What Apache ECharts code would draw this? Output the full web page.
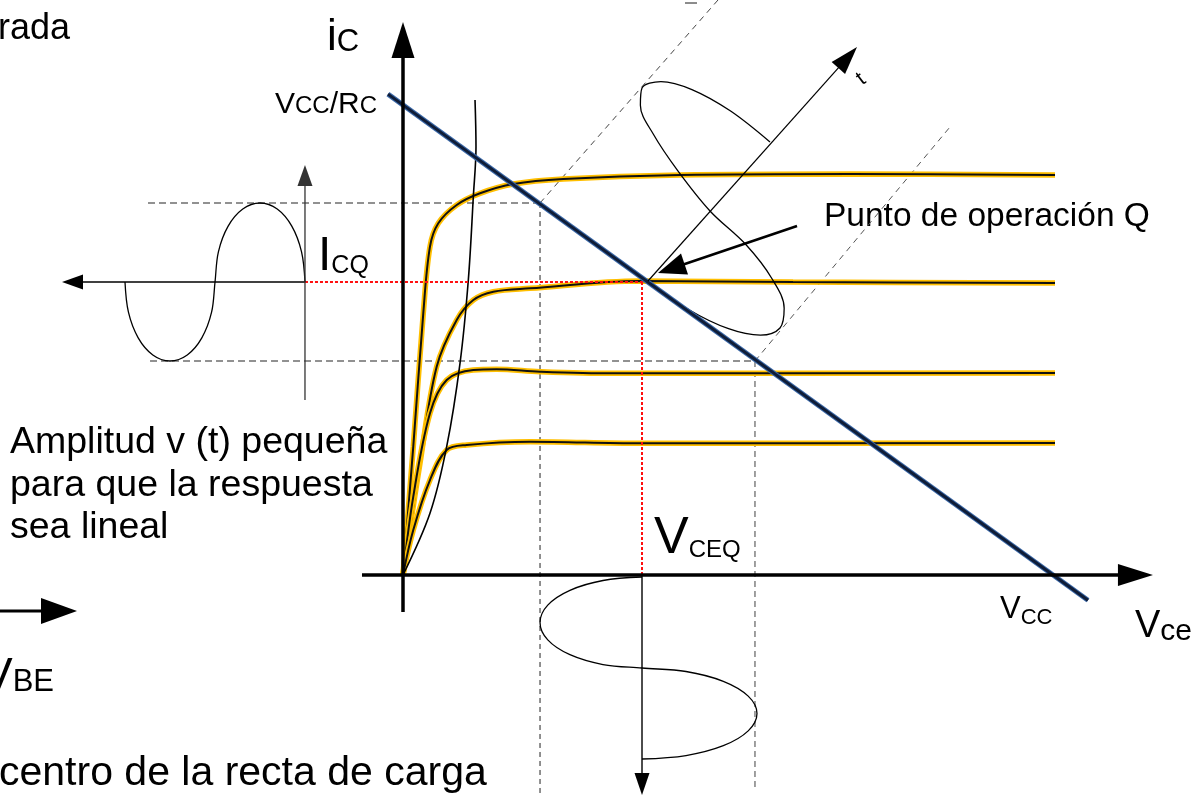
<!DOCTYPE html>
<html><head><meta charset="utf-8">
<script src="https://cdn.jsdelivr.net/npm/echarts@6/dist/echarts.min.js"></script>
<style>html,body{margin:0;padding:0;background:#fff}#c{width:1198px;height:795px}</style>
</head><body><div id="c"></div>
<script>
// ---- data (x: vCE units, y: iC units) ----
const curve1 = [[0,0],[0.158,2.730],[0.312,5.568],[0.415,6.985],[0.543,7.483],[0.826,7.872],[1.185,8.121],[1.697,8.319],[2.466,8.426],[4.262,8.511],[6.877,8.532],[10.031,8.511]];
const curve2 = [[0,0],[0.262,2.383],[0.518,4.433],[0.826,5.426],[1.082,5.851],[1.390,6.028],[1.954,6.099],[3.646,6.255],[6.0,6.234],[10.031,6.213]];
const curve3 = [[0,0],[0.158,1.666],[0.415,3.440],[0.672,4.149],[1.082,4.362],[1.441,4.376],[2.108,4.326],[3.236,4.291],[10.031,4.298]];
const curve4 = [[0,0],[0.158,0.957],[0.415,2.021],[0.672,2.660],[0.980,2.766],[1.954,2.837],[3.646,2.802],[10.031,2.809]];
const saturationCurve = [[0,0],[0.415,1.313],[0.672,2.730],[0.877,4.504],[1.005,6.277],[1.082,8.049],[1.123,9.113],[1.108,10.106]];
const loadLine = [[-0.231,10.231],[10.538,-0.538]];
const inputWave = [[-1.508,6.234],[-1.561,6.877],[-1.711,7.423],[-1.935,7.787],[-2.2,7.915],[-2.465,7.787],[-2.69,7.423],[-2.84,6.877],[-2.892,6.234],
  [-2.945,5.591],[-3.095,5.045],[-3.319,4.681],[-3.585,4.553],[-3.849,4.681],[-4.074,5.045],[-4.224,5.591],[-4.277,6.234]];
const outputWave = [[3.677,-0.043],[3.077,-0.117],[2.568,-0.326],[2.227,-0.641],[2.108,-1.011],[2.227,-1.381],[2.568,-1.696],[3.077,-1.905],[3.677,-1.979],
  [4.354,-2.053],[4.928,-2.262],[5.311,-2.577],[5.446,-2.947],[5.311,-3.317],[4.928,-3.632],[4.354,-3.841],[3.677,-3.915]];
const loadWave = [[3.769,6.255],[4.400,5.644],[5.008,5.240],[5.499,5.103],[5.800,5.255],[5.864,5.673],[5.682,6.293],[5.281,7.020],[4.723,7.745],
  [4.229,8.598],[3.850,9.382],[3.652,9.996],[3.677,10.362],[3.968,10.499],[4.445,10.329],[5.034,9.877],[5.646,9.213]];
const upperLevel = [[-3.923,7.915],[2.108,7.915]];
const lowerLevel = [[-3.892,4.553],[5.415,4.553]];
const upperDrop = [[2.108,7.915],[2.108,-4.681]];
const lowerDrop = [[5.415,4.553],[5.415,-4.532]];
const upperSlant = [[2.108,7.915],[4.846,12.234]];
const lowerSlant = [[5.415,4.553],[8.415,9.532]];
const icqLine = [[-1.508,6.234],[3.754,6.234]];
const vceqLine = [[3.677,6.234],[3.677,0]];
const topFragment = [[4.338,12.17],[4.523,12.17]];
// arrows: [start, tip]
const yAxisArrow = [[0,-0.787],[0,11.766]];
const xAxisArrow = [[-0.631,0],[11.538,0]];
const vbeArrow = [[-6.2,-0.766],[-5.015,-0.766]];
const inputTimeArrow = [[-1.508,6.234],[-5.246,6.234]];
const inputAmpArrow = [[-1.508,3.723],[-1.508,8.723]];
const outputTimeArrow = [[3.677,0],[3.677,-4.681]];
const loadTimeArrow = [[3.769,6.255],[6.985,11.234]];
const qPointer = [[6.062,7.426],[3.923,6.426]];

// ---- styling / assembly ----
const FONT = '"Liberation Sans", Arial, sans-serif';
const series = [];
function seg(data, color, width, type, z, smooth) {
  series.push({type:'line', data, symbol:'none', silent:true, animation:false, z: z||2,
    smooth: smooth||false, lineStyle:{color, width, type: type||'solid', cap:'butt'}});
}
seg(upperLevel,'#6d6d6d',1.6,[7,4],2);
seg(lowerLevel,'#6d6d6d',1.6,[7,4],2);
seg(upperDrop,'#222',1,[5,4],2);
seg(lowerDrop,'#6d6d6d',1.3,[6,4],2);
seg(upperSlant,'#444',1,[6,5],2);
seg(lowerSlant,'#555',1,[6,5],2);
seg(topFragment,'#666',1.5,'solid',2);
[curve1,curve2,curve3,curve4].forEach(c=>{
  seg(c,'#ffbf00',5.5,'solid',3,0.35);
  seg(c,'#111',2,'solid',3,0.35);
});
seg(saturationCurve,'#000',1.6,'solid',3,0.35);
seg(icqLine,'#ff1010',2,[3,2],4);
seg(vceqLine,'#ff1010',2,[3,2],4);
seg(loadLine,'#3a68a8',5,'solid',5);
seg(loadLine,'#0f1d38',3,'solid',5);
seg(inputWave,'#000',1.3,'solid',4,0.35);
seg(outputWave,'#000',1.3,'solid',4,0.35);
seg(loadWave,'#000',1.3,'solid',4,0.35);

const arrowList = [
  {pts:yAxisArrow, lw:3.5, hl:36, hw:23, color:'#000'},
  {pts:xAxisArrow, lw:3.5, hl:35, hw:22, color:'#000'},
  {pts:vbeArrow, lw:3, hl:36, hw:26, color:'#000'},
  {pts:inputTimeArrow, lw:1.4, hl:21, hw:15, color:'#000'},
  {pts:inputAmpArrow, lw:1.3, hl:21, hw:15, color:'#333'},
  {pts:outputTimeArrow, lw:1.4, hl:22, hw:15, color:'#000'},
  {pts:loadTimeArrow, lw:1.2, hl:28, hw:18, color:'#000'},
  {pts:qPointer, lw:2.6, hl:28, hw:22, color:'#000'}
];
series.push({
  type:'custom', coordinateSystem:'cartesian2d', silent:true, animation:false, z:6,
  data: arrowList.map((a,i)=>[a.pts[0][0],a.pts[0][1],a.pts[1][0],a.pts[1][1],i]),
  encode:{x:[0,2], y:[1,3]},
  renderItem:(params, api)=>{
    const s = arrowList[api.value(4)];
    const p1 = api.coord([api.value(0),api.value(1)]);
    const p2 = api.coord([api.value(2),api.value(3)]);
    const dx=p2[0]-p1[0], dy=p2[1]-p1[1], L=Math.hypot(dx,dy);
    const ux=dx/L, uy=dy/L, nx=-uy, ny=ux;
    const bx=p2[0]-ux*s.hl, by=p2[1]-uy*s.hl;
    return {type:'group', children:[
      {type:'line', shape:{x1:p1[0],y1:p1[1],x2:bx+ux*2,y2:by+uy*2}, style:{stroke:s.color,lineWidth:s.lw}},
      {type:'polygon', shape:{points:[[p2[0],p2[1]],[bx+nx*s.hw/2,by+ny*s.hw/2],[bx-nx*s.hw/2,by-ny*s.hw/2]]}, style:{fill:s.color}}
    ]};
  }
});

// ---- text labels (layout) ----
const labels = [
  {x:-2, b:42, parts:[['rada',36]]},
  {x:327, b:53, parts:[['i',44],['C',31]]},
  {x:275, b:115, parts:[['V',30],['CC',24],['/R',30],['C',24]]},
  {x:318, b:273, parts:[['I',48],['CQ',25,2]]},
  {x:824, b:228, parts:[['Punto de operación Q',33.5]]},
  {x:10, b:456, parts:[['Amplitud v (t) pequeña',37.5]]},
  {x:10, b:499, parts:[['para que la respuesta',37.5]]},
  {x:10, b:541, parts:[['sea lineal',37.5]]},
  {x:654, b:557, parts:[['V',52],['CEQ',24,2]]},
  {x:1000, b:620, parts:[['V',31],['CC',22,6]]},
  {x:1135, b:640, parts:[['V',38],['ce',30,2]]},
  {x:-18, b:693, parts:[['V',46],['BE',31]]},
  {x:-1, b:788, parts:[['centro de la recta de carga',41]]}
];
const ctx = document.createElement('canvas').getContext('2d');
const elements = [];
labels.forEach(l=>{
  let x = l.x;
  l.parts.forEach(p=>{
    const [t,size,dy] = p;
    const font = size+'px '+FONT;
    ctx.font = font;
    elements.push({type:'text', x:x, y:l.b+(dy||0)-0.3465*size, silent:true,
      style:{text:t, font:font, fill:'#000', textAlign:'left', textVerticalAlign:'middle', align:'left', verticalAlign:'middle'}});
    x += ctx.measureText(t).width;
  });
});
elements.push({type:'text', x:861, y:79, rotation:0.65, silent:true,
  style:{text:'t', font:'21px '+FONT, fill:'#000', textAlign:'center', textVerticalAlign:'middle', align:'center', verticalAlign:'middle'}});

const chart = echarts.init(document.getElementById('c'), null, {renderer:'canvas'});
chart.setOption({
  animation:false,
  backgroundColor:'#fff',
  grid:{left:0,right:0,top:0,bottom:0,containLabel:false},
  xAxis:{type:'value', min:-6.2, max:12.2308, show:false},
  yAxis:{type:'value', min:-4.6809, max:12.2340, show:false},
  series,
  graphic:{elements}
});
</script></body></html>
